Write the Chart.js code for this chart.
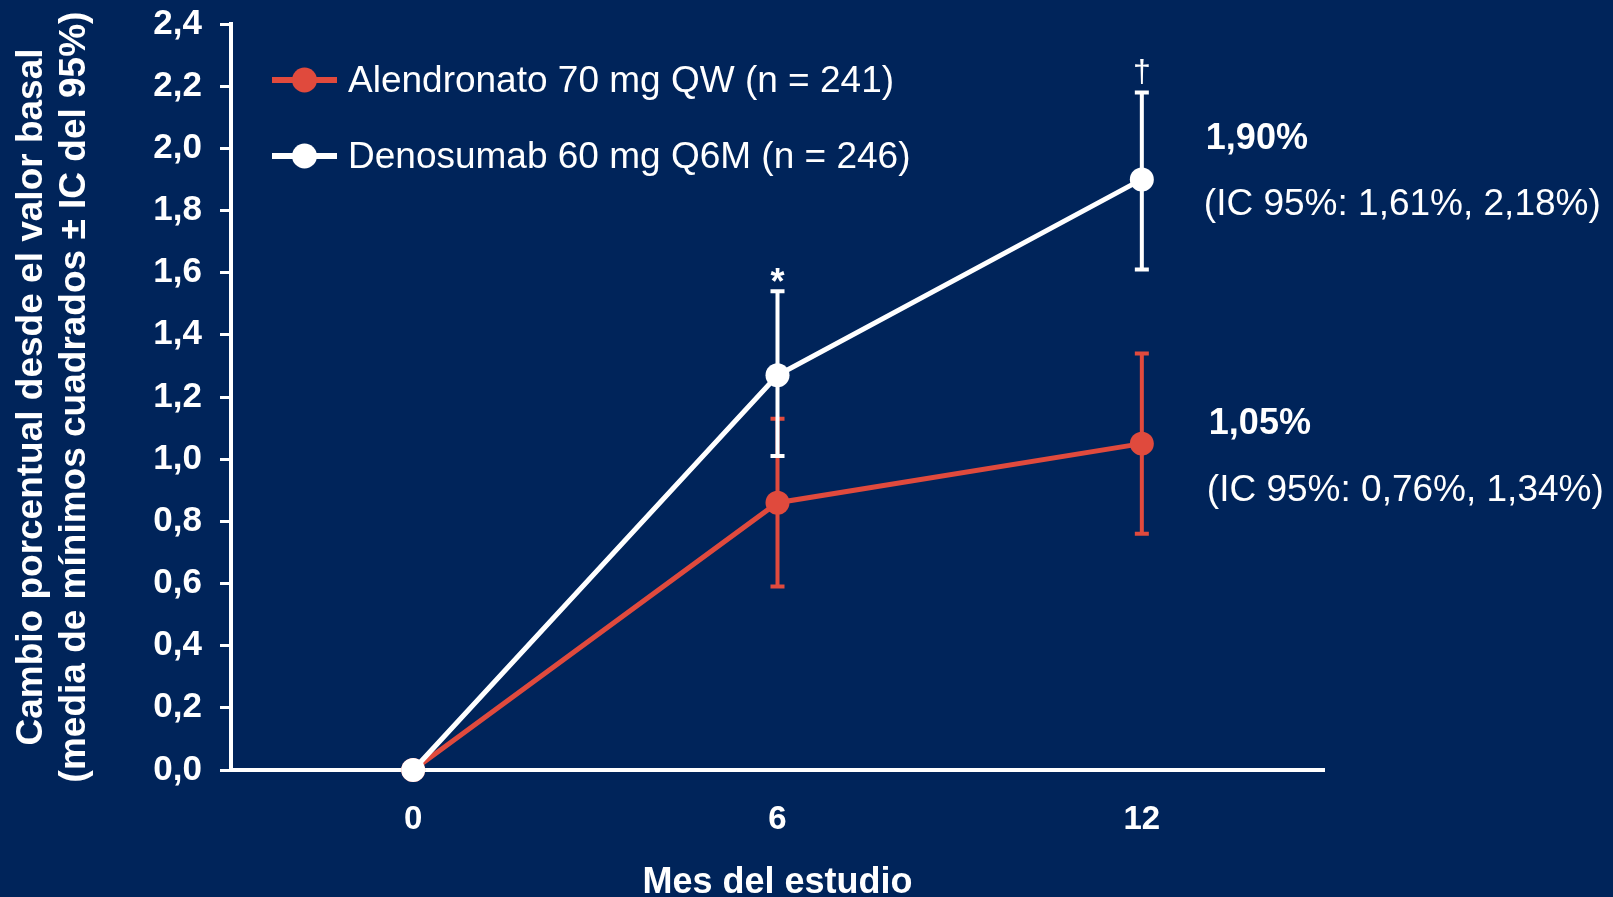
<!DOCTYPE html>
<html>
<head>
<meta charset="utf-8">
<script src="https://cdn.jsdelivr.net/npm/chart.js@4.4.1/dist/chart.umd.min.js"></script>
<style>
  html, body { margin: 0; padding: 0; background: #00245a; }
  canvas { display: block; }
</style>
</head>
<body>
<canvas id="chart" width="1613" height="897"></canvas>
<script>
// Study months and axis ticks
const months = [0, 6, 12];
const xTickValues = [0, 6, 12];
const yTickValues = [0, 0.2, 0.4, 0.6, 0.8, 1.0, 1.2, 1.4, 1.6, 1.8, 2.0, 2.2, 2.4];

// Least-squares mean % change from baseline with 95% CI
const alendronatoMean  = [0, 0.86, 1.05];
const alendronatoLower = [null, 0.59, 0.76];
const alendronatoUpper = [null, 1.13, 1.34];

const denosumabMean  = [0, 1.27, 1.90];
const denosumabLower = [null, 1.01, 1.61];
const denosumabUpper = [null, 1.54, 2.18];

const seriesLabels = ['Alendronato 70 mg QW (n = 241)', 'Denosumab 60 mg Q6M (n = 246)'];
// significance symbols placed above the denosumab CI
const denosumabMarks = [null, '*', '\u2020'];

const yTitle = ['Cambio porcentual desde el valor basal', '(media de mínimos cuadrados ± IC del 95%)'];
const xTitle = 'Mes del estudio';

const RED = '#e04a3d';
const WHITE = '#ffffff';
const FONT = "'Liberation Sans', Arial, Helvetica, sans-serif";

const fmt = (v, d) => v.toFixed(d).replace('.', ',');
const toPoints = (arr) => months.map((m, i) => ({ x: m, y: arr[i] }));

// Vertical CI bars with caps
const errorBars = {
  id: 'errorBars',
  beforeDatasetsDraw(chart) {
    const { ctx, scales: { x, y } } = chart;
    chart.data.datasets.forEach((ds) => {
      ctx.save();
      ctx.strokeStyle = ds.borderColor;
      ctx.lineWidth = 4;
      ds.ciLow.forEach((lo, i) => {
        const hi = ds.ciHigh[i];
        if (lo == null || hi == null) return;
        const px = x.getPixelForValue(months[i]);
        const yl = y.getPixelForValue(lo);
        const yh = y.getPixelForValue(hi);
        ctx.beginPath();
        ctx.moveTo(px, yl); ctx.lineTo(px, yh);
        ctx.moveTo(px - 7, yl); ctx.lineTo(px + 7, yl);
        ctx.moveTo(px - 7, yh); ctx.lineTo(px + 7, yh);
        ctx.stroke();
      });
      ctx.restore();
    });
  }
};

// Value and CI labels at month 12, significance marks
const annotations = {
  id: 'annotations',
  afterDatasetsDraw(chart) {
    const { ctx, scales: { x, y } } = chart;
    const last = months.length - 1;
    const offsets = [
      { dx: 67, dyValue: -20, dyCI: 47 },
      { dx: 64, dyValue: -40, dyCI: 25 }
    ];
    ctx.save();
    ctx.fillStyle = WHITE;
    ctx.textAlign = 'left';
    ctx.textBaseline = 'middle';
    chart.data.datasets.forEach((ds, k) => {
      const o = offsets[k];
      const px = x.getPixelForValue(months[last]) + o.dx;
      const py = y.getPixelForValue(ds.data[last].y);
      ctx.font = `bold 36px ${FONT}`;
      ctx.fillText(fmt(ds.data[last].y, 2) + '%', px, py + o.dyValue);
      ctx.font = `37px ${FONT}`;
      ctx.fillText(`(IC 95%: ${fmt(ds.ciLow[last], 2)}%, ${fmt(ds.ciHigh[last], 2)}%)`, px - 2, py + o.dyCI);
    });

    ctx.textAlign = 'center';
    ctx.textBaseline = 'alphabetic';
    denosumabMarks.forEach((m, i) => {
      if (!m) return;
      const px = x.getPixelForValue(months[i]);
      const py = y.getPixelForValue(denosumabUpper[i]);
      if (m === '*') {
        ctx.font = `bold 36px ${FONT}`;
        ctx.fillText(m, px, py + 3);
      } else {
        ctx.font = `32px ${FONT}`;
        ctx.fillText(m, px, py - 10);
      }
    });
    ctx.restore();
  }
};

// Legend: line with a centred marker, then the label
const lineLegend = {
  id: 'lineLegend',
  afterDraw(chart) {
    const { ctx } = chart;
    ctx.save();
    chart.data.datasets.forEach((ds, k) => {
      const yy = 80 + k * 76;
      ctx.strokeStyle = ds.borderColor;
      ctx.lineWidth = 6;
      ctx.beginPath();
      ctx.moveTo(272, yy); ctx.lineTo(337, yy);
      ctx.stroke();
      ctx.fillStyle = ds.borderColor;
      ctx.beginPath();
      ctx.arc(304.5, yy, 12.5, 0, Math.PI * 2);
      ctx.fill();
      ctx.fillStyle = WHITE;
      ctx.font = `37px ${FONT}`;
      ctx.textAlign = 'left';
      ctx.textBaseline = 'middle';
      ctx.fillText(ds.label, 348, yy + 2);
    });
    ctx.restore();
  }
};

Chart.defaults.font.family = FONT;
Chart.defaults.color = WHITE;

new Chart(document.getElementById('chart'), {
  type: 'line',
  data: {
    datasets: [
      {
        label: seriesLabels[0],
        data: toPoints(alendronatoMean),
        ciLow: alendronatoLower,
        ciHigh: alendronatoUpper,
        borderColor: RED,
        backgroundColor: RED,
        pointBackgroundColor: RED,
        pointBorderColor: RED,
        borderWidth: 5,
        pointRadius: 12,
        pointHoverRadius: 12,
        pointBorderWidth: 0,
        tension: 0,
        clip: false,
        order: 2
      },
      {
        label: seriesLabels[1],
        data: toPoints(denosumabMean),
        ciLow: denosumabLower,
        ciHigh: denosumabUpper,
        borderColor: WHITE,
        backgroundColor: WHITE,
        pointBackgroundColor: WHITE,
        pointBorderColor: WHITE,
        borderWidth: 5,
        pointRadius: 12,
        pointHoverRadius: 12,
        pointBorderWidth: 0,
        tension: 0,
        clip: false,
        order: 1
      }
    ]
  },
  options: {
    responsive: false,
    animation: false,
    events: [],
    layout: { padding: { top: 24, right: 289, bottom: 0, left: 0 } },
    plugins: {
      legend: { display: false },
      tooltip: { enabled: false }
    },
    scales: {
      x: {
        type: 'linear',
        min: -3,
        max: 15,
        afterBuildTicks: (s) => { s.ticks = xTickValues.map((v) => ({ value: v })); },
        afterFit: (s) => { s.height = 127; },
        border: { display: true, color: WHITE, width: 4 },
        grid: { display: true, drawOnChartArea: false, drawTicks: false },
        ticks: {
          color: WHITE,
          font: { size: 33, weight: 'bold' },
          padding: 30,
          maxRotation: 0,
          autoSkip: false,
          callback: (v) => String(v)
        },
        title: {
          display: true,
          text: xTitle,
          color: WHITE,
          font: { size: 36, weight: 'bold', lineHeight: 1.2 },
          padding: { top: 0, bottom: -8 }
        }
      },
      y: {
        min: 0,
        max: 2.4,
        afterBuildTicks: (s) => { s.ticks = yTickValues.map((v) => ({ value: v })); },
        afterFit: (s) => { s.width = 231; },
        border: { display: true, color: WHITE, width: 4 },
        grid: {
          display: true,
          drawOnChartArea: false,
          drawTicks: true,
          tickLength: 11,
          tickWidth: 3,
          tickColor: WHITE,
          color: WHITE
        },
        ticks: {
          color: WHITE,
          font: { size: 35, weight: 'bold', lineHeight: 0.3 },
          padding: 18,
          autoSkip: false,
          callback: (v) => fmt(v, 1)
        },
        title: {
          display: true,
          text: yTitle,
          color: WHITE,
          font: { size: 37, weight: 'bold', lineHeight: 1.17 },
          padding: { top: 10, bottom: 0 }
        }
      }
    }
  },
  plugins: [errorBars, annotations, lineLegend]
});
</script>
</body>
</html>
